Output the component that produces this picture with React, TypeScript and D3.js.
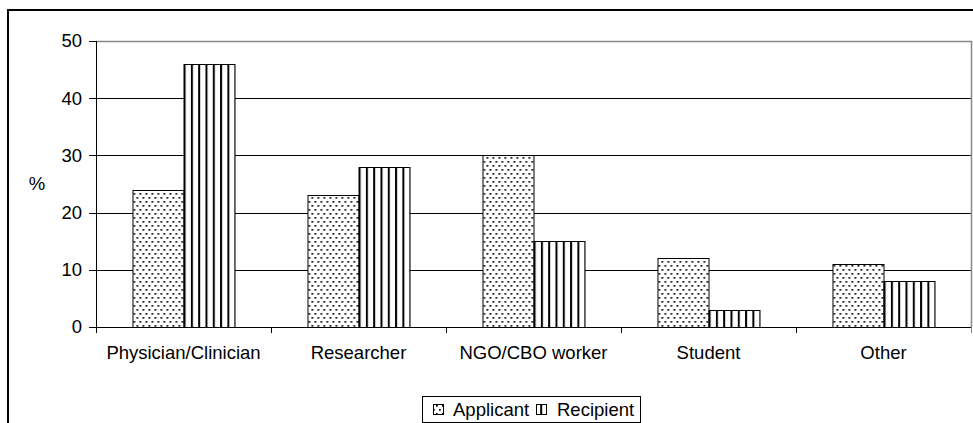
import React from "react";
import * as d3 from "d3";

const categories = ["Physician/Clinician", "Researcher", "NGO/CBO worker", "Student", "Other"];
const seriesNames = ["Applicant", "Recipient"];
const applicantValues = [24, 23, 30, 12, 11];
const recipientValues = [46, 28, 15, 3, 8];
const yTicks = [0, 10, 20, 30, 40, 50];

const W = 973,
  H = 423;
const plot = { left: 96, right: 971, top: 41, bottom: 327 };
const font = "Liberation Sans, Arial, sans-serif";
const fs = 18.5;

export default function App() {
  const x0 = d3
    .scaleBand<string>()
    .domain(categories)
    .range([plot.left, plot.right])
    .paddingInner(0.417)
    .paddingOuter(0.2085);
  const x1 = d3.scaleBand<string>().domain(seriesNames).range([0, x0.bandwidth()]);
  const y = d3.scaleLinear().domain([0, 50]).range([plot.bottom, plot.top]);

  const values: Record<string, number[]> = {
    Applicant: applicantValues,
    Recipient: recipientValues,
  };
  const fills: Record<string, string> = {
    Applicant: "url(#dots)",
    Recipient: "url(#stripes)",
  };

  const step = x0.step();
  const boundaries = d3.range(categories.length + 1).map((i) => plot.left + i * step);

  return (
    <svg
      width={W}
      height={H}
      style={{ position: "absolute", left: 0, top: 0, background: "#fff" }}
      fontFamily={font}
    >
      <defs>
        <pattern id="dots" width={6} height={8} patternUnits="userSpaceOnUse">
          <rect width={6} height={8} fill="#fff" />
          <rect x={1} y={1} width={1.7} height={1.7} fill="#000" />
          <rect x={4} y={5} width={1.7} height={1.7} fill="#000" />
        </pattern>
        <pattern id="stripes" width={7.3} height={8} patternUnits="userSpaceOnUse">
          <rect width={7.3} height={8} fill="#fff" />
          <rect x={0} y={0} width={2} height={8} fill="#000" />
        </pattern>
      </defs>

      {/* outer chart border */}
      <path d={`M8,${H + 5} V10 H${W + 5}`} fill="none" stroke="#000" strokeWidth={2} />

      {/* gridlines */}
      {yTicks
        .filter((t) => t > 0 && t < 50)
        .map((t) => (
          <line
            key={t}
            x1={plot.left}
            x2={plot.right}
            y1={Math.round(y(t)) + 0.5}
            y2={Math.round(y(t)) + 0.5}
            stroke="#000"
          />
        ))}
      {/* plot area border */}
      <path
        d={`M${plot.left},${plot.top + 0.5} H${plot.right + 0.5} V${plot.bottom}`}
        fill="none"
        stroke="#888"
        strokeWidth={1.5}
      />

      {/* bars */}
      {categories.map((c, i) => (
        <g key={c} transform={`translate(${x0(c)},0)`}>
          {seriesNames.map((s) => (
            <rect
              key={s}
              x={(x1(s) as number) + 0.5}
              y={Math.round(y(values[s][i])) + 0.5}
              width={x1.bandwidth()}
              height={plot.bottom - Math.round(y(values[s][i]))}
              fill={fills[s]}
              stroke="#000"
              strokeWidth={1}
            />
          ))}
        </g>
      ))}

      {/* y axis */}
      <line x1={plot.left + 0.5} x2={plot.left + 0.5} y1={plot.top} y2={plot.bottom + 6} stroke="#000" />
      {yTicks.map((t) => (
        <g key={t}>
          <line
            x1={plot.left - 7}
            x2={plot.left}
            y1={Math.round(y(t)) + 0.5}
            y2={Math.round(y(t)) + 0.5}
            stroke="#000"
          />
          <text x={plot.left - 14} y={y(t)} dy="0.35em" textAnchor="end" fontSize={fs}>
            {t}
          </text>
        </g>
      ))}
      <text x={37} y={184} dy="0.35em" textAnchor="middle" fontSize={fs}>
        %
      </text>

      {/* x axis */}
      <line x1={plot.left} x2={plot.right} y1={plot.bottom + 0.5} y2={plot.bottom + 0.5} stroke="#000" />
      {boundaries.map((bx, i) => (
        <line
          key={i}
          x1={Math.round(bx) + 0.5}
          x2={Math.round(bx) + 0.5}
          y1={plot.bottom}
          y2={plot.bottom + 6}
          stroke={i === categories.length ? "#888" : "#000"}
        />
      ))}
      {categories.map((c) => (
        <text key={c} x={(x0(c) as number) + x0.bandwidth() / 2} y={359} textAnchor="middle" fontSize={fs}>
          {c}
        </text>
      ))}

      {/* legend */}
      <rect x={422.5} y={396.5} width={218} height={26} fill="#fff" stroke="#000" />
      <rect x={433.5} y={404.5} width={10} height={10} fill="url(#dots)" stroke="#000" />
      <text x={453} y={410} dy="0.35em" fontSize={fs}>
        Applicant
      </text>
      <rect x={536.5} y={404.5} width={10} height={10} fill="url(#stripes)" stroke="#000" />
      <text x={557} y={410} dy="0.35em" fontSize={fs}>
        Recipient
      </text>
    </svg>
  );
}
